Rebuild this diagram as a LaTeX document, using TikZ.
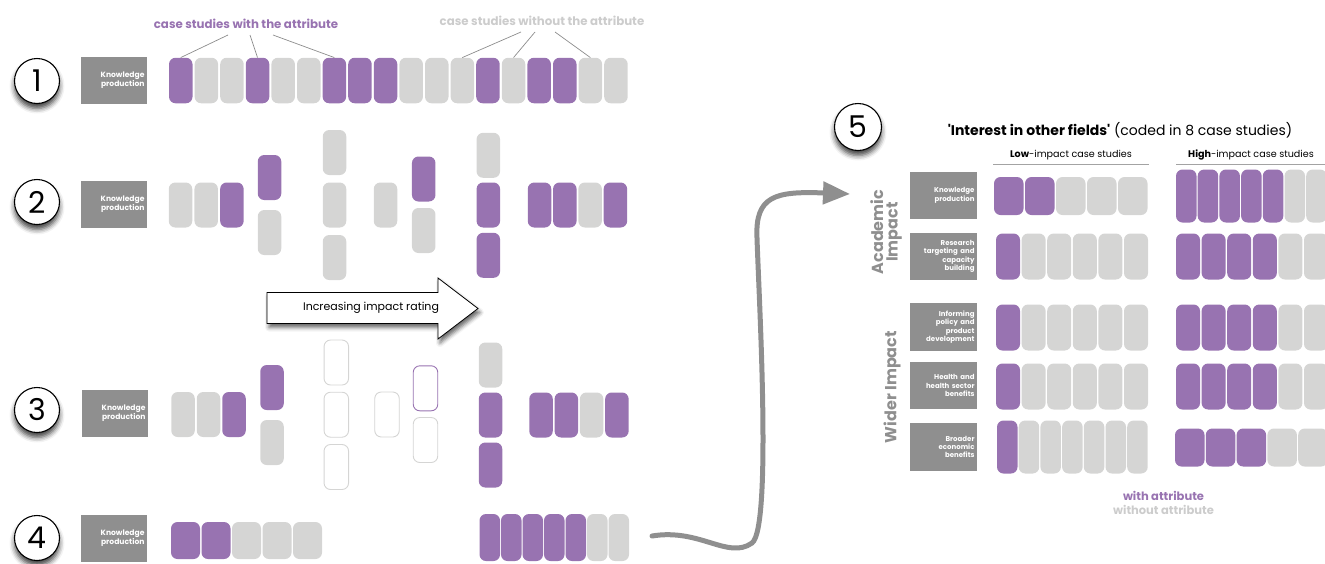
\documentclass[tikz,border=0pt]{standalone}
\usepackage{fontspec}
\setmainfont{Poppins}
\usetikzlibrary{shadows.blur,arrows.meta}
\definecolor{purp}{RGB}{152,115,177}
\definecolor{lgrey}{RGB}{213,213,212}
\definecolor{dgrey}{RGB}{143,143,143}
\definecolor{tgrey}{RGB}{204,204,204}
\definecolor{lineg}{RGB}{140,140,140}
\tikzset{
 cs/.style={rounded corners=6.5pt, inner sep=0pt, minimum width=23.5pt, minimum height=45pt},
 P/.style={cs, fill=purp},
 G/.style={cs, fill=lgrey},
 O/.style={cs, fill=white, draw=lgrey, line width=0.9pt, minimum width=24.5pt},
 OP/.style={cs, fill=white, draw=purp, line width=0.9pt, minimum width=24.5pt},
 lab/.style={fill=dgrey, text=white, font=\bfseries\fontsize{7.6}{9.2}\selectfont, align=right,
   minimum width=66pt, minimum height=47pt, inner sep=0pt, text width=61pt},
 rlab/.style={lab, minimum width=67pt, minimum height=47.5pt, text width=62pt, font=\bfseries\fontsize{7}{8.4}\selectfont},
 num/.style={circle, draw=black, line width=1.1pt, fill=white, minimum size=45pt, inner sep=0pt,
   font=\fontsize{30}{30}\selectfont,
   blur shadow={shadow xshift=0pt, shadow yshift=-5pt, shadow blur radius=5pt, shadow opacity=75}},
 leader/.style={draw=lineg, line width=0.7pt},
 uline/.style={draw=lineg!80, line width=0.8pt},
 vlab/.style={rotate=90, text=dgrey, font=\bfseries\fontsize{16}{14.5}\selectfont, align=center},
}
\newcommand\csrow[7]{%
  \foreach \kind [count=\i] in {#7} {%
    \node[\kind, minimum width=#4pt, minimum height=#5pt] (#1-\i) at ({#2+(\i-1)*#3}, #6) {};}}
\begin{document}
\begin{tikzpicture}[x=1pt,y=-1pt]
\useasboundingbox (0,0) rectangle (1325,563);

% ---------- headers row 1
\node[text=purp, font=\bfseries\fontsize{11.8}{13}\selectfont] (hwith) at (246,24) {case studies with the attribute};
\node[text=tgrey, font=\bfseries\fontsize{11.8}{13}\selectfont] (hwithout) at (542,21) {case studies without the attribute};

% ---------- circles
\node[num] (n1) at (37,81) {1};
\node[num] (n2) at (37,202) {2};
\node[num] (n3) at (37,410) {3};
\node[num] (n4) at (37,538) {4};
\node[num, minimum size=47pt] (n5) at (858,127) {5};

% ---------- left labels
\node[lab] (l1) at (114,80.5) {Knowledge\\production};
\node[lab] (l2) at (114,204.5) {Knowledge\\production};
\node[lab] (l3) at (115,413.5) {Knowledge\\production};
\node[lab] (l4) at (114,538.5) {Knowledge\\production};

% ---------- row 1
\csrow{r1}{180.75}{25.6}{23.5}{45.5}{80.5}{P,G,G,P,G,G,P,P,P,G,G,G,P,G,P,P,G,G}

\coordinate (w1) at (228,35);
\coordinate (w2) at (250,35);
\coordinate (w3) at (273,35);
\coordinate (o1) at (521,32);
\coordinate (o2) at (535,32);
\coordinate (o3) at (555,32);
\draw[leader] (w1) -- (r1-1.north);
\draw[leader] (w2) -- (r1-4.north);
\draw[leader] (w3) -- (r1-7.north);
\draw[leader] (o1) -- (r1-12.north);
\draw[leader] (o2) -- (r1-14.north);
\draw[leader] (o3) -- (r1-17.north);

% ---------- row 2
\csrow{r2a}{180.5}{25.7}{23.5}{45}{205}{G,G,P}
\node[P] (r2c1a) at (269.5,177.5) {};
\node[G] (r2c1b) at (269.5,232.5) {};
\node[G] (r2c2a) at (334.5,152.5) {};
\node[G] (r2c2b) at (334.5,205) {};
\node[G] (r2c2c) at (334.5,257.5) {};
\node[G] (r2c3a) at (385.5,205) {};
\node[P] (r2c4a) at (423.7,179) {};
\node[G] (r2c4b) at (423.7,230.5) {};
\node[G] (r2c5a) at (488.3,155.3) {};
\node[P] (r2c5b) at (488.3,205) {};
\node[P] (r2c5c) at (488.3,255.3) {};
\csrow{r2b}{539.5}{25.3}{23.5}{45}{205}{P,P,G,P}

% ---------- increasing arrow
\draw[fill=white, draw=black, line width=0.8pt,
  blur shadow={shadow xshift=2pt, shadow yshift=-4pt, shadow blur radius=4pt, shadow opacity=60}]
  (267,292.5) -- (438,292.5) -- (438,278) -- (478,308.5) -- (438,339) -- (438,323.5) -- (267,323.5) -- cycle;
\node[font=\fontsize{11}{12}\selectfont] (incr) at (371,308) {Increasing impact rating};

% ---------- row 3
\csrow{r3a}{183}{25.5}{23.5}{45}{414.5}{G,G,P}
\node[P] (r3c1a) at (272,387.5) {};
\node[G] (r3c1b) at (272,442.5) {};
\node[O] (r3c2a) at (336.3,362.5) {};
\node[O] (r3c2b) at (336.3,414.7) {};
\node[O] (r3c2c) at (336.3,467) {};
\node[O] (r3c3a) at (387,414.5) {};
\node[OP] (r3c4a) at (425.5,388.3) {};
\node[O] (r3c4b) at (425.5,440) {};
\node[G] (r3c5a) at (490.5,365) {};
\node[P] (r3c5b) at (490.5,415) {};
\node[P] (r3c5c) at (490.5,465) {};
\csrow{r3b}{541}{25.3}{23.5}{45}{415}{P,P,G,P}

% ---------- row 4
\csrow{r4a}{185.5}{30.5}{29}{37}{540.5}{P,P,G,G,G}
\csrow{r4b}{489.75}{21.5}{20.5}{47}{537.5}{P,P,P,P,P,G,G}

% ---------- curved arrow
\coordinate (cstart) at (652,536);
\coordinate (ctip) at (850,194);
\draw[line width=5pt, dgrey, line cap=round, -{Triangle[length=27pt,width=22pt]}]
  (cstart) .. controls (700,528) and (728,560) .. (752,543)
  .. controls (772,528) and (759,300) .. (757,238)
  .. controls (755,196) and (775,191) .. (ctip);

% ---------- panel 5
\node[font=\fontsize{14}{16}\selectfont] (title) at (1120,130)
  {\textbf{\textquotesingle Interest in other fields\textquotesingle} (coded in 8 case studies)};
\node[font=\fontsize{9.6}{12}\selectfont] (lowh) at (1071,155) {\textbf{Low}-impact case studies};
\node[font=\fontsize{9.6}{12}\selectfont] (highh) at (1251,155) {\textbf{High}-impact case studies};
\draw[uline] (993,164.5) -- (1149,164.5);
\draw[uline] (1176,164.5) -- (1325,164.5);

\node[vlab] (acad) at (886,232) {Academic\\Impact};
\node[vlab] (wider) at (892,387) {Wider Impact};

\node[rlab] (rl1) at (943.5,195.5) {Knowledge\\production};
\node[rlab] (rl2) at (943.5,256.5) {Research\\targeting and\\capacity\\building};
\node[rlab] (rl3) at (943.5,327) {Informing\\policy and\\product\\development};
\node[rlab] (rl4) at (943.5,385.5) {Health and\\health sector\\benefits};
\node[rlab] (rl5) at (943.5,447) {Broader\\economic\\benefits};

\csrow{aL}{1008.75}{31}{29.5}{38}{196}{P,P,G,G,G}
\csrow{aH}{1186.25}{21.7}{20.5}{53}{196}{P,P,P,P,P,G,G}
\csrow{bL}{1008}{25.6}{24}{46}{256.5}{P,G,G,G,G,G}
\csrow{bH}{1188}{25.6}{24}{46}{256.5}{P,P,P,P,G,G}
\csrow{cL}{1008}{25.6}{24}{46}{327.5}{P,G,G,G,G,G}
\csrow{cH}{1188}{25.6}{24}{46}{327.5}{P,P,P,P,G,G}
\csrow{dL}{1008}{25.6}{24}{46}{386.5}{P,G,G,G,G,G}
\csrow{dH}{1188}{25.6}{24}{46}{386.5}{P,P,P,P,G,G}
\csrow{eL}{1007.25}{21.7}{20.5}{53}{447}{P,G,G,G,G,G,G}
\csrow{eH}{1189.75}{30.8}{29.5}{38}{447.5}{P,P,P,G,G}

\node[text=purp, font=\bfseries\fontsize{11.5}{12}\selectfont] (lw) at (1163.5,495.5) {with attribute};
\node[text=tgrey, font=\bfseries\fontsize{11.5}{12}\selectfont] (lwo) at (1163.5,509.5) {without attribute};
\end{tikzpicture}
\end{document}
